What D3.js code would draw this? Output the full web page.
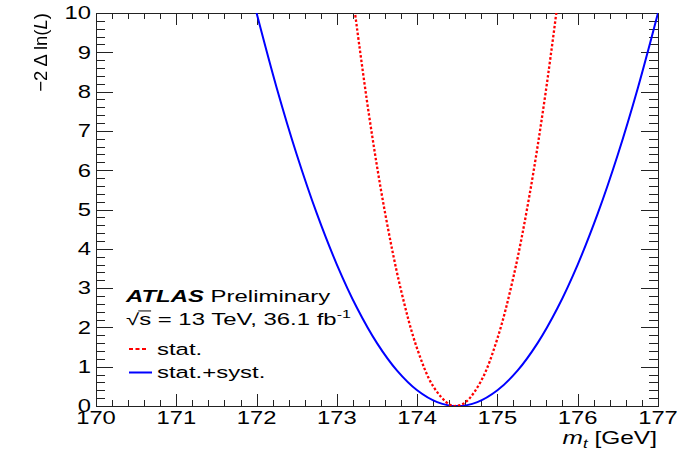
<!DOCTYPE html>
<html>
<head>
<meta charset="utf-8">
<script src="https://cdn.jsdelivr.net/npm/d3@7"></script>
<style>
  html, body { margin: 0; padding: 0; background: #fff; }
  svg { display: block; }
  text { font-family: "Liberation Sans", Arial, Helvetica, sans-serif; fill: #000; }
</style>
</head>
<body>
<svg id="chart" width="685" height="456"></svg>
<script>
// Profile likelihood scan of the top-quark mass: -2 Δln(L) vs m_t [GeV]
const statMass = [173.20, 173.40, 173.60, 173.80, 174.00, 174.20, 174.40, 174.48, 174.60, 174.80, 175.00, 175.20, 175.40, 175.60, 175.80];
const statNll  = [10.40, 7.41, 4.92, 2.94, 1.46, 0.50, 0.04, 0.00, 0.09, 0.65, 1.72, 3.29, 5.37, 7.97, 11.06];

const systMass = [172.00, 172.25, 172.50, 172.75, 173.00, 173.25, 173.50, 173.75, 174.00, 174.25, 174.50, 174.75, 175.00, 175.25, 175.50, 175.75, 176.00, 176.25, 176.50, 176.75, 177.00];
const systNll  = [10.00, 8.10, 6.40, 4.90, 3.60, 2.50, 1.60, 0.90, 0.40, 0.10, 0.00, 0.10, 0.40, 0.90, 1.60, 2.50, 3.60, 4.90, 6.40, 8.10, 10.00];

const xTicks = [170, 171, 172, 173, 174, 175, 176, 177];
const yTicks = [0, 1, 2, 3, 4, 5, 6, 7, 8, 9, 10];

const legendItems = [
  { label: "stat.", color: "#ff0000", dash: "4,2.5" },
  { label: "stat.+syst.", color: "#0000ff", dash: null }
];

const svg = d3.select("#chart");
const frame = { left: 96, right: 658, top: 13, bottom: 406 };

const x = d3.scaleLinear().domain([170, 177]).range([frame.left, frame.right]);
const y = d3.scaleLinear().domain([0, 10]).range([frame.bottom, frame.top]);

// horizontal widening applied to text glyphs
const SX = 1.36;

const defs = svg.append("defs");
// clip region for the curves
defs.append("clipPath").attr("id", "plotClip")
  .append("rect")
  .attr("x", frame.left).attr("y", frame.top)
  .attr("width", frame.right - frame.left).attr("height", frame.bottom - frame.top);
// pass-through filter: rasterises the rotated title offscreen (grayscale anti-aliasing)
defs.append("filter").attr("id", "plainRaster")
  .attr("x", "-10%").attr("y", "-10%").attr("width", "120%").attr("height", "120%")
  .append("feOffset").attr("dx", 0).attr("dy", 0);

// minor tick values (5 subdivisions)
const xMinor = d3.range(170, 177.0001, 0.2).map(v => +v.toFixed(2));
const yMinor = d3.range(0, 10.0001, 0.2).map(v => +v.toFixed(2));

const tickG = svg.append("g").attr("stroke", "#222").attr("stroke-width", 1).attr("shape-rendering", "crispEdges");
const isMajor = v => Math.abs(v - Math.round(v)) < 1e-6;

// bottom + top ticks
xMinor.forEach(v => {
  const len = isMajor(v) ? 12 : 6;
  const px = Math.round(x(v)) + 0.5;
  tickG.append("line").attr("x1", px).attr("x2", px).attr("y1", frame.bottom).attr("y2", frame.bottom - len);
  tickG.append("line").attr("x1", px).attr("x2", px).attr("y1", frame.top).attr("y2", frame.top + len);
});
// left + right ticks
yMinor.forEach(v => {
  const len = isMajor(v) ? 17 : 9;
  const py = Math.round(y(v)) + 0.5;
  tickG.append("line").attr("y1", py).attr("y2", py).attr("x1", frame.left).attr("x2", frame.left + len);
  tickG.append("line").attr("y1", py).attr("y2", py).attr("x1", frame.right).attr("x2", frame.right - len);
});

// frame
svg.append("rect")
  .attr("x", frame.left + 0.5).attr("y", frame.top + 0.5)
  .attr("width", frame.right - frame.left).attr("height", frame.bottom - frame.top)
  .attr("fill", "none").attr("stroke", "#222").attr("stroke-width", 1)
  .attr("shape-rendering", "crispEdges");

// helper: text widened horizontally around its anchor
function wideText(px, py, str, size, anchor, sx) {
  const g = svg.append("g").attr("transform", `translate(${px},${py}) scale(${sx || SX},1)`);
  const t = g.append("text").attr("font-size", size).attr("text-anchor", anchor || "start");
  if (str) t.text(str);
  return t;
}

// tick labels
xTicks.forEach(v => wideText(x(v), 423.5, String(v), 17.5, "middle"));
yTicks.forEach(v => wideText(91, y(v) + 6.3, String(v), 17.5, "end"));

// axis titles
const xt = wideText(frame.right - 1, 444, null, 17.5, "end", 1.4);
xt.append("tspan").attr("font-style", "italic").text("m");
xt.append("tspan").attr("font-style", "italic").attr("font-size", 12).attr("dy", 3.5).text("t");
xt.append("tspan").attr("dy", -3.5).text(" [GeV]");

const ytWrap = svg.append("g").attr("filter", "url(#plainRaster)");
const ytG = ytWrap.append("g")
  .attr("transform", `translate(46.5,${frame.top}) rotate(-90)`);
const yt = ytG.append("text").attr("font-size", 18.5).attr("text-anchor", "end");
yt.append("tspan").text("\u22122 \u0394 ln(");
yt.append("tspan").attr("font-style", "italic").text("L");
yt.append("tspan").text(")");

// curves
const line = d3.line().x(d => x(d[0])).y(d => y(d[1])).curve(d3.curveCatmullRom);
const curves = svg.append("g").attr("clip-path", "url(#plotClip)");
curves.append("path")
  .datum(systMass.map((m, i) => [m, systNll[i]]))
  .attr("d", line).attr("fill", "none")
  .attr("stroke", "#0000ff").attr("stroke-width", 2);
curves.append("path")
  .datum(statMass.map((m, i) => [m, statNll[i]]))
  .attr("d", line).attr("fill", "none")
  .attr("stroke", "#ff0000").attr("stroke-width", 2.3)
  .attr("stroke-dasharray", "2.5,2");

// labels
const atlas = wideText(126, 301.5, null, 16.5, "start", 1.45);
atlas.append("tspan").attr("font-weight", "bold").attr("font-style", "italic").text("ATLAS");
atlas.append("tspan").text(" Preliminary");

const energy = wideText(126, 325, null, 16.5, "start", 1.45);
energy.append("tspan").text("\u221As = 13 TeV, 36.1 fb");
energy.append("tspan").attr("font-size", 11).attr("dy", -7).text("-1");
// bar of the square root over "s"
{
  const node = energy.node();
  const r0 = node.getExtentOfChar(0);
  const r1 = node.getExtentOfChar(1);
  d3.select(node.parentNode).append("line")
    .attr("x1", r0.x + r0.width - 0.6).attr("x2", r1.x + r1.width)
    .attr("y1", r0.y + 1.2).attr("y2", r0.y + 1.2)
    .attr("stroke", "#000").attr("stroke-width", 1);
}

legendItems.forEach((item, i) => {
  const cy = 349 + i * 23.5;
  svg.append("line")
    .attr("x1", 129).attr("x2", i === 0 ? 148 : 152)
    .attr("y1", cy).attr("y2", cy)
    .attr("stroke", item.color).attr("stroke-width", 2)
    .attr("stroke-dasharray", item.dash);
  wideText(157, cy + 5.5, item.label, 16.5, "start", 1.45);
});
</script>
</body>
</html>
